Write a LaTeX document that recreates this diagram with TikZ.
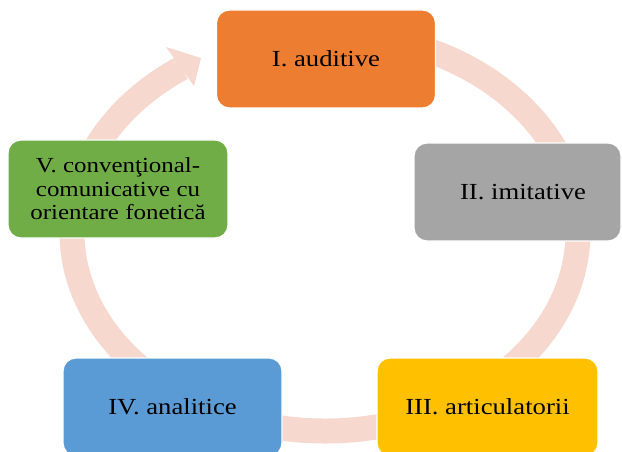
\documentclass[tikz,border=0pt]{standalone}
\usepackage{fontspec}
\setmainfont{Liberation Serif}[FakeStretch=1.16]
\usetikzlibrary{calc}
\definecolor{ringpeach}{HTML}{F7D8CE}
\definecolor{stOrange}{HTML}{ED7D31}
\definecolor{stGray}{HTML}{A5A5A5}
\definecolor{stYellow}{HTML}{FFC000}
\definecolor{stBlue}{HTML}{5B9BD5}
\definecolor{stGreen}{HTML}{70AD47}
\begin{document}
\begin{tikzpicture}[x=1pt,y=-1pt,
  stage/.style={draw=white, line width=1.2pt, rounded corners=13pt,
    minimum width=219pt, minimum height=98pt, inner sep=0pt,
    align=center, text=black, font=\fontsize{23}{24}\selectfont},
  ring/.style={draw=ringpeach, line width=25pt},
  ringhead/.style={fill=ringpeach}]
\useasboundingbox (0,0) rectangle (622,452);
\clip (0,0) rectangle (622,452);

% continuous cycle arrow behind the stages
\coordinate (ringc) at (325,232);
\draw[ring] ($(ringc)+(-85:253 and 199)$)
  arc[start angle=-85, end angle=235.5, x radius=253, y radius=199];
% its head, pointing into the first stage
\coordinate (headA) at (166,47);
\coordinate (headB) at (194,86);
\coordinate (headT) at (201,58);
\fill[ringhead] (headA) -- (headT) -- (headB) -- cycle;

% stages
\node[stage, fill=stOrange] (nI) at (326,59) {I. auditive};
\node[stage, fill=stGray, minimum width=207pt] (nII) at (517.5,192)
  {\hspace*{11pt}II. imitative};
\node[stage, fill=stYellow, minimum width=221pt] (nIII) at (487.5,407)
  {III. articulatorii};
\node[stage, fill=stBlue] (nIV) at (172.5,407) {IV. analitice};
\node[stage, fill=stGreen, minimum width=220pt,
  font=\fontsize{21.5}{23.5}\selectfont] (nV) at (118,189)
  {V. conven\c{t}ional-\\comunicative cu\\orientare fonetic\u{a}};
\end{tikzpicture}
\end{document}
